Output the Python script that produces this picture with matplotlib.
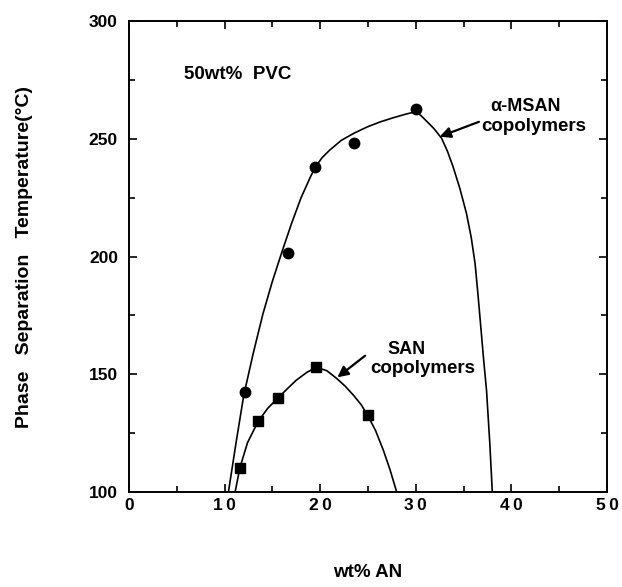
import matplotlib
matplotlib.use("Agg")
import matplotlib.pyplot as plt
from matplotlib.ticker import MultipleLocator

plt.rcParams['font.family'] = ['Liberation Sans', 'DejaVu Sans']
plt.rcParams['font.weight'] = 'bold'

# measured points
msan_an = [12.1, 16.6, 19.5, 23.5, 30.0]
msan_t = [142.5, 201.4, 238.2, 248.0, 262.6]
san_an = [11.6, 13.5, 15.6, 19.6, 25.0]
san_t = [110.4, 130.2, 140.1, 153.2, 132.5]

# hand-drawn trend curves
msan_curve_an = [10.4, 11.2, 12.0, 13.0, 14.0, 15.0, 16.0, 17.0, 18.0, 19.0, 19.5, 20.2,
                 21.0, 22.2, 23.5, 24.9, 26.3, 27.7, 29.0, 29.6, 30.0, 30.5, 31.1, 31.9,
                 32.7, 33.3, 33.9, 34.6, 35.3, 35.8, 36.2, 36.5, 36.8, 37.1, 37.4,
                 37.75, 38.0]
msan_curve_t = [100, 121, 141, 159, 175.5, 189.5, 202, 214, 225, 234, 238, 242,
                245.2, 249.3, 252.3, 255.0, 257.2, 259.0, 260.5, 261.1, 261.3, 260.0, 257.6,
                254.3, 250.2, 244.8, 238.1, 229.0, 218.3, 208.0, 197, 184, 170, 156, 143,
                120, 100]
san_curve_an = [11.1, 11.6, 12.4, 13.5, 14.5, 15.6, 16.6, 17.5, 18.6, 19.6, 20.7,
                21.7, 22.6, 23.5, 24.3, 25.0, 25.8, 26.6, 27.3, 28.0]
san_curve_t = [100, 110.3, 121, 129.9, 135.5, 140, 144.0, 147.5, 150.8, 153, 151.5,
               148.3, 145.0, 141, 137.0, 132.3, 126.0, 117.8, 109.5, 100]

xticks = [0, 10, 20, 30, 40, 50]
xticklabels = ['0', '1\u20090', '2\u20090', '3\u20090', '4\u20090', '5\u20090']
yticks = [100, 150, 200, 250, 300]

fig = plt.figure(figsize=(6.22, 5.87), dpi=100)
ax = fig.add_axes([0.2074, 0.1618, 0.7685, 0.8024])

ax.plot(msan_curve_an, msan_curve_t, color='black', lw=1.2)
ax.plot(san_curve_an, san_curve_t, color='black', lw=1.2)
ax.plot(msan_an, msan_t, 'o', color='black', ms=7.5)
ax.plot(san_an, san_t, 's', color='black', ms=7)

ax.set_xlim(0, 50)
ax.set_ylim(100, 300)
ax.set_xticks(xticks)
ax.set_xticklabels(xticklabels)
ax.set_yticks(yticks)
ax.xaxis.set_minor_locator(MultipleLocator(5))
ax.yaxis.set_minor_locator(MultipleLocator(25))
ax.tick_params(which='both', direction='in', top=True, right=True,
               labelsize=12.5, width=1.2)
ax.tick_params(axis='x', which='major', length=6, pad=4)
ax.tick_params(axis='y', which='major', length=6, pad=8)
ax.tick_params(which='minor', length=4)
for s in ax.spines.values():
    s.set_linewidth(1.4)

ax.set_xlabel('wt% AN', fontsize=13.5, fontweight='bold', labelpad=37)
ax.set_ylabel('Phase   Separation   Temperature(°C)', fontsize=14,
              fontweight='bold', labelpad=40)

ax.text(5.8, 277.5, '50wt%  PVC', fontsize=13.5, fontweight='bold', va='center')

ax.text(41.5, 263.6, 'α-MSAN', fontsize=13, fontweight='bold', ha='center', va='center')
ax.text(42.3, 255.2, 'copolymers', fontsize=13.5, fontweight='bold', ha='center', va='center')
ax.annotate('', xy=(32.5, 250.9), xytext=(36.6, 257.2),
            arrowprops=dict(arrowstyle='-|>', color='black', lw=1.6,
                            mutation_scale=16, shrinkA=0, shrinkB=0))

ax.text(29.0, 160.6, 'SAN', fontsize=13, fontweight='bold', ha='center', va='center')
ax.text(30.7, 152.5, 'copolymers', fontsize=13.5, fontweight='bold', ha='center', va='center')
ax.annotate('', xy=(21.8, 148.7), xytext=(24.7, 157.9),
            arrowprops=dict(arrowstyle='-|>', color='black', lw=1.6,
                            mutation_scale=16, shrinkA=0, shrinkB=0))

fig.savefig('out.png', dpi=100)
